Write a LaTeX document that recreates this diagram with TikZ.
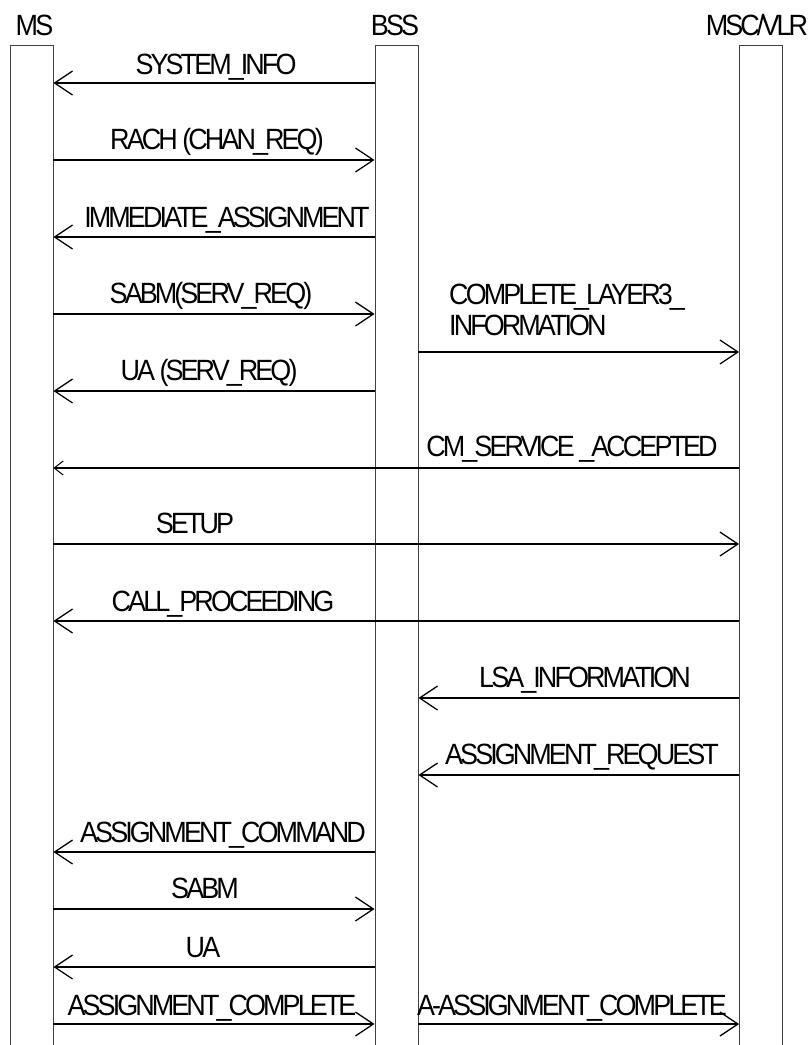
\documentclass[tikz,border=0pt]{standalone}
\usepackage{fontspec}
\newfontfamily\msgfont[FakeStretch=0.92,LetterSpace=-10]{Liberation Sans}
\usetikzlibrary{positioning, arrows.meta}

\begin{document}
\begin{tikzpicture}[
    x=1pt, y=-1pt,
    lifeline/.style={
        draw=black!75,
        line width=0.8pt,
        minimum width=43pt,
        minimum height=1040pt,
        inner sep=0pt,
        anchor=north,
    },
    head/.style={
        font=\msgfont\fontsize{29.3}{31}\selectfont,
        inner sep=0pt,
        anchor=base,
    },
    msg/.style={
        line width=1.6pt,
        -{Straight Barb[length=18pt, width=24pt, line width=1.3pt]},
    },
    msg label/.style={
        font=\msgfont\fontsize{29.3}{31}\selectfont,
        inner sep=0pt,
        anchor=base,
    },
]
\useasboundingbox (0,0) rectangle (808,1045);

% --- Lifelines (open at the bottom, running off the page) ---
\node[lifeline] (ms) at (31.5,45) {};
\node[lifeline] (bss) at (396.5,45) {};
\node[lifeline] (msc) at (761,45) {};

\node[head] (ms-name) at ([xshift=3pt, yshift=10pt]ms.north) {MS};
\node[head] (bss-name) at ([xshift=-1.5pt, yshift=10pt]bss.north) {BSS};
\node[head] (msc-name) at ([xshift=-4pt, yshift=10pt]msc.north) {MSC/VLR};

% --- Radio access ---
\draw[msg] (bss.west |- 0,83) -- (ms.east |- 0,83);
\node[msg label] (sysinfo) at (216,74) {SYSTEM\_INFO};

\draw[msg] (ms.east |- 0,160) -- (bss.west |- 0,160);
\node[msg label] (rach) at (217,149) {RACH (CHAN\_REQ)};

\draw[msg] (bss.west |- 0,237) -- (ms.east |- 0,237);
\node[msg label] (immass) at (227,227) {IMMEDIATE\_ASSIGNMENT};

\draw[msg] (ms.east |- 0,314) -- (bss.west |- 0,314);
\node[msg label] (sabm-req) at (211,303) {SABM(SERV\_REQ)};

\draw[msg] (bss.east |- 0,352) -- (msc.west |- 0,352);
\node[msg label, anchor=south west, align=left] (layer3) at (449,336)
    {COMPLETE\_LAYER3\_\\INFORMATION};

\draw[msg] (bss.west |- 0,391) -- (ms.east |- 0,391);
\node[msg label] (ua-req) at (209,380) {UA (SERV\_REQ)};

% --- Call setup ---
\draw[line width=1.6pt, -{Straight Barb[length=9pt, width=14pt, line width=1pt]}]
    (msc.west |- 0,468) -- (ms.east |- 0,468);
\node[msg label] (cmacc) at (572,456) {CM\_SERVICE \_ACCEPTED};

\draw[msg] (ms.east |- 0,544) -- (msc.west |- 0,544);
\node[msg label] (setup) at (195,533) {SETUP};

\draw[msg] (msc.west |- 0,621) -- (ms.east |- 0,621);
\node[msg label] (callproc) at (223,611) {CALL\_PROCEEDING};

\draw[msg] (msc.west |- 0,698) -- (bss.east |- 0,698);
\node[msg label] (lsa) at (585,687) {LSA\_INFORMATION};

\draw[msg] (msc.west |- 0,775) -- (bss.east |- 0,775);
\node[msg label] (assreq) at (582,764) {ASSIGNMENT\_REQUEST};

% --- Channel assignment ---
\draw[msg] (bss.west |- 0,852) -- (ms.east |- 0,852);
\node[msg label] (asscmd) at (223,842) {ASSIGNMENT\_COMMAND};

\draw[msg] (ms.east |- 0,909) -- (bss.west |- 0,909);
\node[msg label] (sabm) at (205,898) {SABM};

\draw[msg] (bss.west |- 0,967) -- (ms.east |- 0,967);
\node[msg label] (ua) at (203,957) {UA};

\draw[msg] (ms.east |- 0,1024) -- (bss.west |- 0,1024);
\node[msg label] (asscomp) at (212,1015) {ASSIGNMENT\_COMPLETE};

\draw[msg] (bss.east |- 0,1024) -- (msc.west |- 0,1024);
\node[msg label] (a-asscomp) at (572,1015) {A-ASSIGNMENT\_COMPLETE};

\end{tikzpicture}
\end{document}
